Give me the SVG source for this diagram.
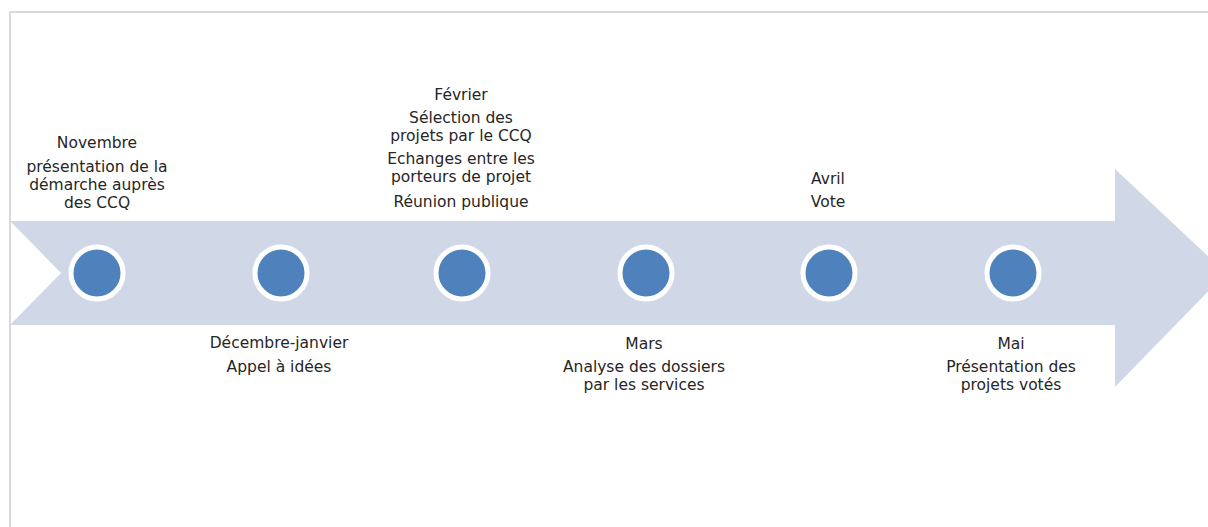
<svg xmlns="http://www.w3.org/2000/svg" width="1208" height="527" viewBox="0 0 1208 527">
<style>
.lbl{font-family:"DejaVu Sans","Liberation Sans",sans-serif;font-size:15.5px;fill:#262626;text-anchor:middle}
.dot{fill:#4f81bd;stroke:#ffffff;stroke-width:5}
</style>
<rect x="0" y="0" width="1208" height="527" fill="#ffffff"/>
<path d="M10,528 L10,12 L1209,12" fill="none" stroke="#d9d9d9" stroke-width="2"/>
<g id="arrow">
<polygon points="10,221 1115,221 1115,169 1226,273 1115,387 1115,325 10,325 61,273" fill="#d0d8e8"/>
</g>
<g id="connectors"></g>
<g id="n1"><circle class="dot" cx="97" cy="273" r="26"/>
<text class="lbl" x="97" y="148">Novembre</text>
<text class="lbl" x="97" y="172">présentation de la</text>
<text class="lbl" x="97" y="190">démarche auprès</text>
<text class="lbl" x="97" y="208">des CCQ</text></g>
<g id="n2"><circle class="dot" cx="281" cy="273" r="26"/>
<text class="lbl" x="279" y="348">Décembre-janvier</text>
<text class="lbl" x="279" y="372">Appel à idées</text></g>
<g id="n3"><circle class="dot" cx="462" cy="273" r="26"/>
<text class="lbl" x="461" y="100">Février</text>
<text class="lbl" x="461" y="123">Sélection des</text>
<text class="lbl" x="461" y="141">projets par le CCQ</text>
<text class="lbl" x="461" y="164">Echanges entre les</text>
<text class="lbl" x="461" y="182">porteurs de projet</text>
<text class="lbl" x="461" y="207">Réunion publique</text></g>
<g id="n4"><circle class="dot" cx="646" cy="273" r="26"/>
<text class="lbl" x="644" y="349">Mars</text>
<text class="lbl" x="644" y="372">Analyse des dossiers</text>
<text class="lbl" x="644" y="390">par les services</text></g>
<g id="n5"><circle class="dot" cx="829" cy="273" r="26"/>
<text class="lbl" x="828" y="184">Avril</text>
<text class="lbl" x="828" y="207">Vote</text></g>
<g id="n6"><circle class="dot" cx="1013" cy="273" r="26"/>
<text class="lbl" x="1011" y="349">Mai</text>
<text class="lbl" x="1011" y="372">Présentation des</text>
<text class="lbl" x="1011" y="390">projets votés</text></g>
</svg>
